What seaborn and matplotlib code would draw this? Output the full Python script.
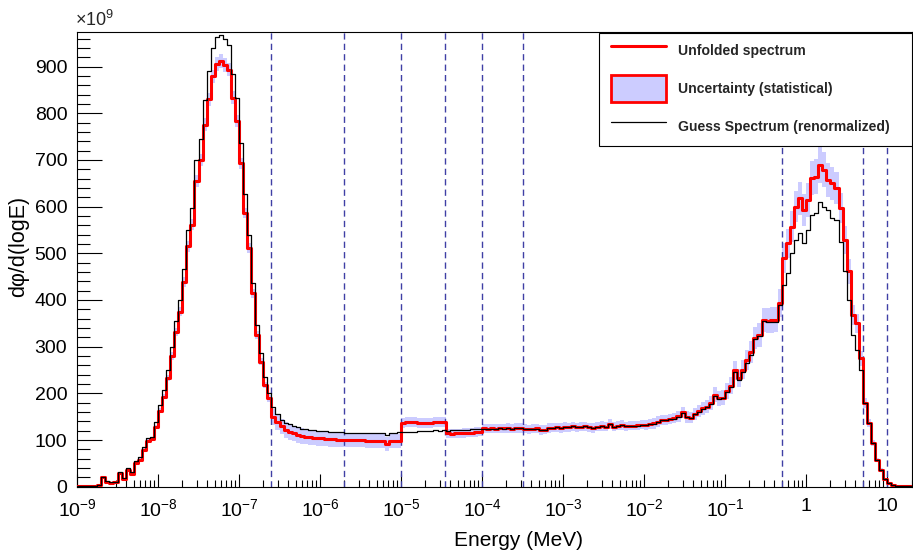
import numpy as np
import pandas as pd
import matplotlib
matplotlib.use("Agg")
import matplotlib.pyplot as plt
import seaborn as sns
from matplotlib.ticker import FixedLocator, LogLocator, MultipleLocator, FuncFormatter, NullFormatter
from matplotlib.lines import Line2D
from matplotlib.patches import Patch, Rectangle

# Energy grid: 20 logarithmic bins per decade, 1e-9 MeV up to ~20 MeV (206 bins)
bin_edges = 10.0 ** np.linspace(-9.0, 1.3, 207)

# Unfolded spectrum, dphi/d(logE) in units of 1e9
unfolded = [
    0.5, 1, 1, 1.5, 2, 3, 20, 11, 8, 9,
    30, 17, 36, 28, 50, 58, 78, 98, 102, 128,
    163, 193, 233, 280, 332, 375, 439, 515, 561, 655,
    700, 775, 830, 879, 905, 911, 904, 893, 833, 783,
    693, 586, 511, 414, 325, 268, 218, 189, 150, 139,
    129, 122, 118, 114, 111, 109, 107, 106, 105, 104,
    103.5, 102.5, 102, 101.5, 101, 100.5, 100, 100, 99.5, 99,
    99, 98.5, 98.5, 98, 98, 98, 92, 98, 98.5, 98.5,
    137, 138, 139, 138, 137, 136, 137, 136, 138, 138,
    139, 114, 113.5, 114, 114.5, 115, 115.5, 116, 117, 118,
    125, 124.5, 125, 124, 125, 125, 126, 124.5, 125.5, 125.5,
    124.5, 123, 124, 125, 121.5, 122, 126, 126.5, 127, 126,
    128, 127.5, 129, 127, 128.5, 129, 127.5, 126, 128.5, 130,
    128.5, 134, 128.5, 130.5, 132, 129.5, 131, 130.5, 131.5, 133,
    132.5, 134.5, 135.5, 139.5, 142.5, 143.5, 145.5, 146.5, 150.5, 159,
    149.5, 147.5, 156, 162, 168, 171, 179, 197, 189, 191,
    205, 216, 249, 233, 251, 271, 289, 318, 325, 357,
    356, 357, 358, 393, 489, 521, 557, 600, 618, 593,
    614, 661, 664, 689, 679, 657, 650, 640, 597, 529,
    461, 368, 350, 275, 179, 136, 93, 57, 36, 16,
    7, 3, 1.5, 1, 0.5, 0.5,
]

# Statistical uncertainty (half width of the band), units of 1e9
uncertainty = [
    1, 1, 1, 1, 1, 1, 2, 1.5, 1.5, 1.5,
    2, 1.5, 2, 2, 3, 3, 4, 4, 4, 5,
    5, 6, 7, 8, 9, 10, 11, 12, 12, 13,
    13, 14, 14, 14, 15, 15, 15, 14, 14, 13,
    12, 11, 10, 9, 8, 8, 7, 7, 17, 17,
    17, 17, 17, 17, 17, 17, 16, 16, 16, 16,
    16, 16, 16, 16, 16, 16, 15, 15, 15, 15,
    15, 15, 15, 15, 15, 15, 15, 15, 15, 15,
    11, 11, 11, 11, 11, 11, 11, 11, 11, 11,
    11, 10, 10, 10, 10, 10, 10, 10, 10, 10,
    10, 10, 10, 10, 10, 10, 10, 10, 10, 10,
    10, 10, 10, 10, 10, 10, 10, 10, 10, 10,
    10, 10, 10, 10, 10, 10, 10, 10, 10, 10,
    10, 10, 10, 10, 10, 10, 10, 10, 10, 10,
    11, 11, 11, 11, 11, 11, 11, 11, 11, 11,
    12, 12, 13, 13, 14, 14, 15, 16, 16, 17,
    18, 18, 20, 20, 21, 22, 23, 24, 25, 26,
    27, 27, 27, 30, 32, 32, 33, 34, 35, 35,
    36, 37, 37, 38, 38, 36, 35, 34, 32, 30,
    26, 22, 20, 16, 10, 8, 6, 4, 3, 2,
    1, 1, 0.5, 0.5, 0.3, 0.3,
]

# Renormalised guess spectrum, units of 1e9
guess = [
    0.5, 1, 1, 1.5, 2, 3, 21, 12, 9, 10,
    32, 18, 39, 31, 54, 64, 84, 105, 107, 138,
    175, 207, 250, 300, 354, 399, 466, 550, 596, 700,
    745, 829, 890, 940, 963, 968, 958, 947, 883, 833,
    736, 626, 540, 437, 346, 286, 234, 200, 171, 155,
    143, 137, 134, 130, 127, 124, 123, 122, 121, 120,
    120, 119, 118, 118, 117, 116.5, 116, 116, 115, 115,
    114.5, 115, 115, 115, 115.5, 115.5, 111, 115.5, 116, 116.5,
    117, 118, 118, 118, 119, 119, 120, 119, 121, 120,
    121, 120, 121, 121, 122, 122, 122, 123, 123, 123.5,
    124, 124, 124.5, 124, 125, 124.5, 125, 124, 125, 125,
    124, 123, 124, 124.5, 121, 122, 126, 126, 127, 126,
    128, 127, 129, 127, 128, 129, 127, 126, 128, 130,
    128, 134, 128, 130, 132, 129, 131, 130, 131, 133,
    132, 134, 135, 139, 142, 143, 145, 146, 150, 158,
    149, 147, 155, 161, 167, 170, 178, 195, 187, 189,
    203, 213, 245, 229, 246, 266, 283, 316, 323, 355,
    352, 352, 353, 390, 432, 457, 500, 529, 543, 522,
    550, 582, 586, 609, 600, 593, 575, 571, 525, 461,
    400, 325, 293, 250, 179, 136, 93, 58, 36, 17,
    8, 3, 1.5, 1, 0.5, 0.5,
]

# Boundaries of the energy groups (MeV)
group_bounds = [2.5e-7, 2e-6, 1e-5, 3.5e-5, 1e-4, 3.2e-4, 0.5, 5.0, 10.0]

# Decade ticks on the energy axis
energy_ticks = [1e-9, 1e-8, 1e-7, 1e-6, 1e-5, 1e-4, 1e-3, 1e-2, 1e-1, 1.0, 10.0]

legend_labels = ["Unfolded spectrum", "Uncertainty (statistical)",
                 "Guess Spectrum (renormalized)"]

sns.set_theme(style="ticks")
plt.rcParams["font.family"] = ["Liberation Sans", "DejaVu Sans"]
plt.rcParams["mathtext.fontset"] = "custom"
plt.rcParams["mathtext.rm"] = "Liberation Sans"
plt.rcParams["mathtext.it"] = "Liberation Sans:italic"
plt.rcParams["mathtext.bf"] = "Liberation Sans:bold"

W, H = 913, 554
fig = plt.figure(figsize=(W / 100, H / 100), dpi=100)
ax_l, ax_r, ax_t, ax_b = 77, 911.5, 32, 486.7
ax = fig.add_axes([ax_l / W, (H - ax_b) / H, (ax_r - ax_l) / W, (ax_b - ax_t) / H])
ax.set_facecolor("white")


def closed(v):
    v = np.asarray(v, dtype=float)
    return np.append(v, v[-1])


unf = np.asarray(unfolded, dtype=float)
err = np.asarray(uncertainty, dtype=float)
df = pd.DataFrame({
    "E": bin_edges,
    "unfolded": closed(unf),
    "guess": closed(guess),
    "lo": closed(np.clip(unf - err, 0, None)),
    "hi": closed(unf + err),
})

ax.set_xscale("log")

# uncertainty band drawn per bin
ax.fill_between(df["E"], df["lo"], df["hi"], step="post",
                color="#ccccff", lw=0, zorder=2)

for e in group_bounds:
    ax.axvline(e, color="#3f3fa5", lw=1.0, ls=(0, (4.5, 3.0)), zorder=2.5)

sns.lineplot(data=df, x="E", y="unfolded", ax=ax, color="red", lw=2.2,
             drawstyle="steps-post", estimator=None, sort=False, zorder=3)
sns.lineplot(data=df, x="E", y="guess", ax=ax, color="black", lw=0.9,
             drawstyle="steps-post", estimator=None, sort=False, zorder=4)

ax.set_xlim(1e-9, 20)
ax.set_ylim(0, 974)


def energy_fmt(v, pos):
    e = int(round(np.log10(v)))
    if e == 0:
        return "1"
    if e == 1:
        return "10"
    return r"$10^{%d}$" % e


ax.xaxis.set_major_locator(FixedLocator(energy_ticks))
ax.xaxis.set_minor_locator(LogLocator(base=10, subs=np.arange(2, 10), numticks=30))
ax.xaxis.set_major_formatter(FuncFormatter(energy_fmt))
ax.xaxis.set_minor_formatter(NullFormatter())
ax.yaxis.set_major_locator(MultipleLocator(100))
ax.yaxis.set_minor_locator(MultipleLocator(20))

ax.tick_params(axis="both", which="both", direction="in", top=False, right=False,
               width=0.8, color="black", labelcolor="black", labelsize=14)
ax.tick_params(axis="y", which="major", length=18, pad=7)
ax.tick_params(axis="y", which="minor", length=9)
ax.tick_params(axis="x", which="major", length=9.5, pad=8)
ax.tick_params(axis="x", which="minor", length=5)

for s in ax.spines.values():
    s.set_color("black")
    s.set_linewidth(0.8)
    s.set_visible(True)

ax.set_xlabel("Energy (MeV)", fontsize=15, color="black")
ax.xaxis.set_label_coords((518 - ax_l) / (ax_r - ax_l), (ax_b - 541) / (ax_b - ax_t))
ax.xaxis.label.set_va("center")
ax.set_ylabel("dφ/d(logE)", fontsize=15.5, color="black")
ax.yaxis.set_label_coords((19 - ax_l) / (ax_r - ax_l), (ax_b - 246) / (ax_b - ax_t))
ax.yaxis.label.set_va("center")

fig.text(75 / W, 1 - 26 / H, r"$\times10^{9}$", fontsize=13, ha="left", va="baseline")

# legend box
frame = Rectangle((599 / W, 1 - 146 / H), 313 / W, 113 / H, transform=fig.transFigure,
                  facecolor="white", edgecolor="black", lw=0.8, zorder=5)
fig.add_artist(frame)

handles = [
    Line2D([], [], color="red", lw=2.2),
    Patch(facecolor="#ccccff", edgecolor="red", lw=2.0),
    Line2D([], [], color="black", lw=0.9),
]
leg = fig.legend(handles, legend_labels, loc="upper left",
                 bbox_to_anchor=(611 / W, 1 - 37.5 / H),
                 bbox_transform=fig.transFigure,
                 prop={"family": "Liberation Sans", "weight": "bold", "size": 10.1},
                 frameon=False, borderpad=0, handlelength=3.92, handleheight=2.58,
                 handletextpad=0.83, labelspacing=0.78, borderaxespad=0)
leg.set_zorder(6)

fig.savefig("out.png", dpi=100, facecolor="white")
